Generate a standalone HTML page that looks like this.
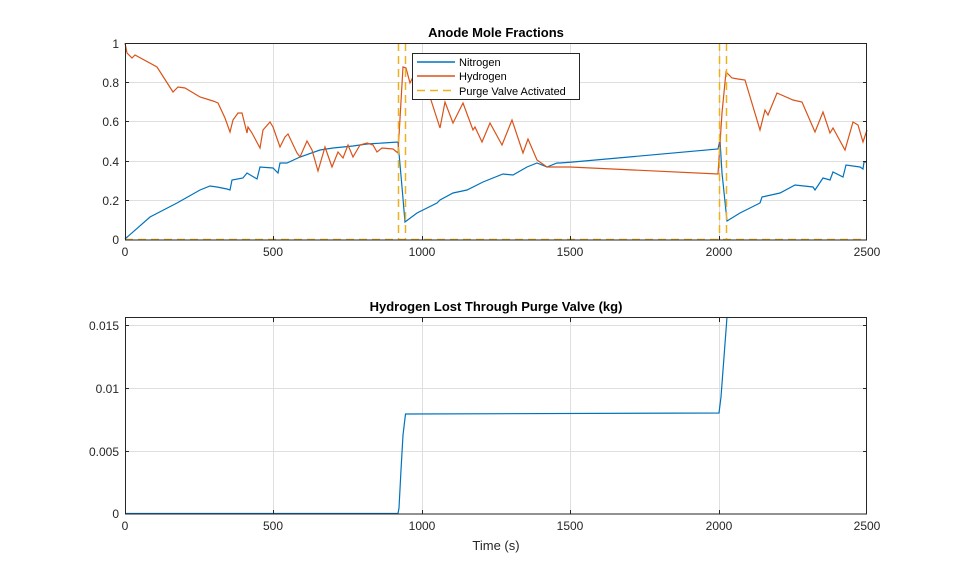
<!DOCTYPE html>
<html><head><meta charset="utf-8"><style>
body{margin:0;background:#fff;}
svg{display:block;font-family:"Liberation Sans",Arial,sans-serif;}
</style></head><body>
<svg width="959" height="577" viewBox="0 0 959 577" xmlns="http://www.w3.org/2000/svg">
<rect width="959" height="577" fill="#fff"/>
<!-- Plot 1 -->
<g stroke="#dfdfdf" stroke-width="1">
<line x1="273.5" y1="43" x2="273.5" y2="240"/><line x1="422.5" y1="43" x2="422.5" y2="240"/><line x1="570.5" y1="43" x2="570.5" y2="240"/><line x1="719.5" y1="43" x2="719.5" y2="240"/>
<line x1="125" y1="82.5" x2="867" y2="82.5"/><line x1="125" y1="121.5" x2="867" y2="121.5"/><line x1="125" y1="161.5" x2="867" y2="161.5"/><line x1="125" y1="200.5" x2="867" y2="200.5"/>
</g>
<polyline fill="none" stroke="#0072BD" stroke-width="1.2" points="125,239 150,217 177,203 200,190 210,186 217,187 227,189 230,190 232,180 243,178 247,173 257,179 260,167 273,168 278,173 280,163 287,163 300,157 320,150 333,148 353,146 367,144 383,143 398,142 402,187 405,222 417,213 437,203 440,200 453,193 467,190 483,182 503,174 513,175 527,167 537,163 547,167 557,163 560,163 573,162 718,149 720,140 722,173 727,221 740,213 760,203 762,197 780,193 795,185 813,187 815,190 823,178 830,180 833,172 843,177 846,165 860,167 863,169 864,162 867,162"/>
<polyline fill="none" stroke="#D95319" stroke-width="1.2" points="125,43 127,53 132,58 135,55 157,67 173,92 178,87 185,88 200,97 213,101 218,103 225,118 230,132 233,120 238,113 242,113 247,133 248,127 252,133 260,148 263,130 270,122 273,127 280,147 285,137 288,134 297,153 300,157 307,141 312,150 318,171 325,147 332,167 338,152 343,158 348,145 353,157 360,145 367,143 373,145 377,152 382,148 393,149 398,153 403,67 406,68 410,83 413,77 423,87 430,97 440,128 445,102 453,123 463,103 473,130 475,127 482,142 490,123 502,145 512,120 523,153 528,139 537,160 547,167 555,167 567,167 570,167 718,174 722,113 726,72 732,78 738,79 745,80 760,130 765,110 768,115 777,93 793,100 802,102 815,132 823,112 830,133 833,128 845,150 853,122 858,125 863,142 867,130"/>
<g stroke="#EDB120" stroke-width="1.5" stroke-dasharray="8,5" fill="none">
<line x1="398.5" y1="43" x2="398.5" y2="240"/><line x1="405.5" y1="43" x2="405.5" y2="240"/>
<line x1="719.5" y1="43" x2="719.5" y2="240"/><line x1="726.5" y1="43" x2="726.5" y2="240"/>
<line x1="125" y1="239.5" x2="867" y2="239.5"/>
</g>
<rect x="125.5" y="43.5" width="741" height="196.5" fill="none" stroke="#262626" stroke-width="1"/>
<g stroke="#262626"><line x1="273.5" y1="240" x2="273.5" y2="236"/><line x1="422.5" y1="240" x2="422.5" y2="236"/><line x1="570.5" y1="240" x2="570.5" y2="236"/><line x1="719.5" y1="240" x2="719.5" y2="236"/>
<line x1="125" y1="82.5" x2="129" y2="82.5"/><line x1="125" y1="121.5" x2="129" y2="121.5"/><line x1="125" y1="161.5" x2="129" y2="161.5"/><line x1="125" y1="200.5" x2="129" y2="200.5"/>
<line x1="867" y1="82.5" x2="863" y2="82.5"/><line x1="867" y1="121.5" x2="863" y2="121.5"/><line x1="867" y1="161.5" x2="863" y2="161.5"/><line x1="867" y1="200.5" x2="863" y2="200.5"/></g>
<g font-size="12" fill="#262626" text-anchor="middle">
<text x="125" y="256">0</text><text x="273" y="256">500</text><text x="422" y="256">1000</text><text x="570" y="256">1500</text><text x="719" y="256">2000</text><text x="867" y="256">2500</text>
</g>
<g font-size="12" fill="#262626" text-anchor="end">
<text x="119" y="48">1</text><text x="119" y="87">0.8</text><text x="119" y="126">0.6</text><text x="119" y="166">0.4</text><text x="119" y="205">0.2</text><text x="119" y="244">0</text>
</g>
<text x="496" y="37" font-size="13" font-weight="bold" text-anchor="middle" fill="#000">Anode Mole Fractions</text>
<rect x="412.5" y="53.5" width="167" height="46" fill="#fff" stroke="#262626"/>
<line x1="417" y1="62" x2="455" y2="62" stroke="#0072BD" stroke-width="1.5"/>
<line x1="417" y1="76" x2="455" y2="76" stroke="#D95319" stroke-width="1.5"/>
<line x1="417" y1="90.5" x2="455" y2="90.5" stroke="#EDB120" stroke-width="1.5" stroke-dasharray="8,5"/>
<g font-size="11" fill="#000"><text x="459" y="66">Nitrogen</text><text x="459" y="80">Hydrogen</text><text x="459" y="95">Purge Valve Activated</text></g>
<!-- Plot 2 -->
<g stroke="#dfdfdf" stroke-width="1">
<line x1="273.5" y1="318" x2="273.5" y2="514"/><line x1="422.5" y1="318" x2="422.5" y2="514"/><line x1="570.5" y1="318" x2="570.5" y2="514"/><line x1="719.5" y1="318" x2="719.5" y2="514"/>
<line x1="125" y1="325.5" x2="867" y2="325.5"/><line x1="125" y1="388.5" x2="867" y2="388.5"/><line x1="125" y1="451.5" x2="867" y2="451.5"/>
</g>
<polyline fill="none" stroke="#0072BD" stroke-width="1.2" points="125,513.5 398,513.5 399,508 401,470 403,435 405.5,414 719,413 721,397 727,317"/>
<rect x="125.5" y="317.5" width="741" height="196.5" fill="none" stroke="#262626" stroke-width="1"/>
<g stroke="#262626"><line x1="273.5" y1="514" x2="273.5" y2="510"/><line x1="422.5" y1="514" x2="422.5" y2="510"/><line x1="570.5" y1="514" x2="570.5" y2="510"/><line x1="719.5" y1="514" x2="719.5" y2="510"/>
<line x1="273.5" y1="318" x2="273.5" y2="322"/><line x1="422.5" y1="318" x2="422.5" y2="322"/><line x1="570.5" y1="318" x2="570.5" y2="322"/><line x1="719.5" y1="318" x2="719.5" y2="322"/>
<line x1="125" y1="325.5" x2="129" y2="325.5"/><line x1="125" y1="388.5" x2="129" y2="388.5"/><line x1="125" y1="451.5" x2="129" y2="451.5"/>
<line x1="867" y1="325.5" x2="863" y2="325.5"/><line x1="867" y1="388.5" x2="863" y2="388.5"/><line x1="867" y1="451.5" x2="863" y2="451.5"/></g>
<g font-size="12" fill="#262626" text-anchor="middle">
<text x="125" y="530">0</text><text x="273" y="530">500</text><text x="422" y="530">1000</text><text x="570" y="530">1500</text><text x="719" y="530">2000</text><text x="867" y="530">2500</text>
</g>
<g font-size="12" fill="#262626" text-anchor="end">
<text x="119" y="330">0.015</text><text x="119" y="393">0.01</text><text x="119" y="456">0.005</text><text x="119" y="518">0</text>
</g>
<text x="496" y="311" font-size="13" font-weight="bold" text-anchor="middle" fill="#000">Hydrogen Lost Through Purge Valve (kg)</text>
<text x="496" y="550" font-size="13" text-anchor="middle" fill="#262626">Time (s)</text>
</svg>
</body></html>
